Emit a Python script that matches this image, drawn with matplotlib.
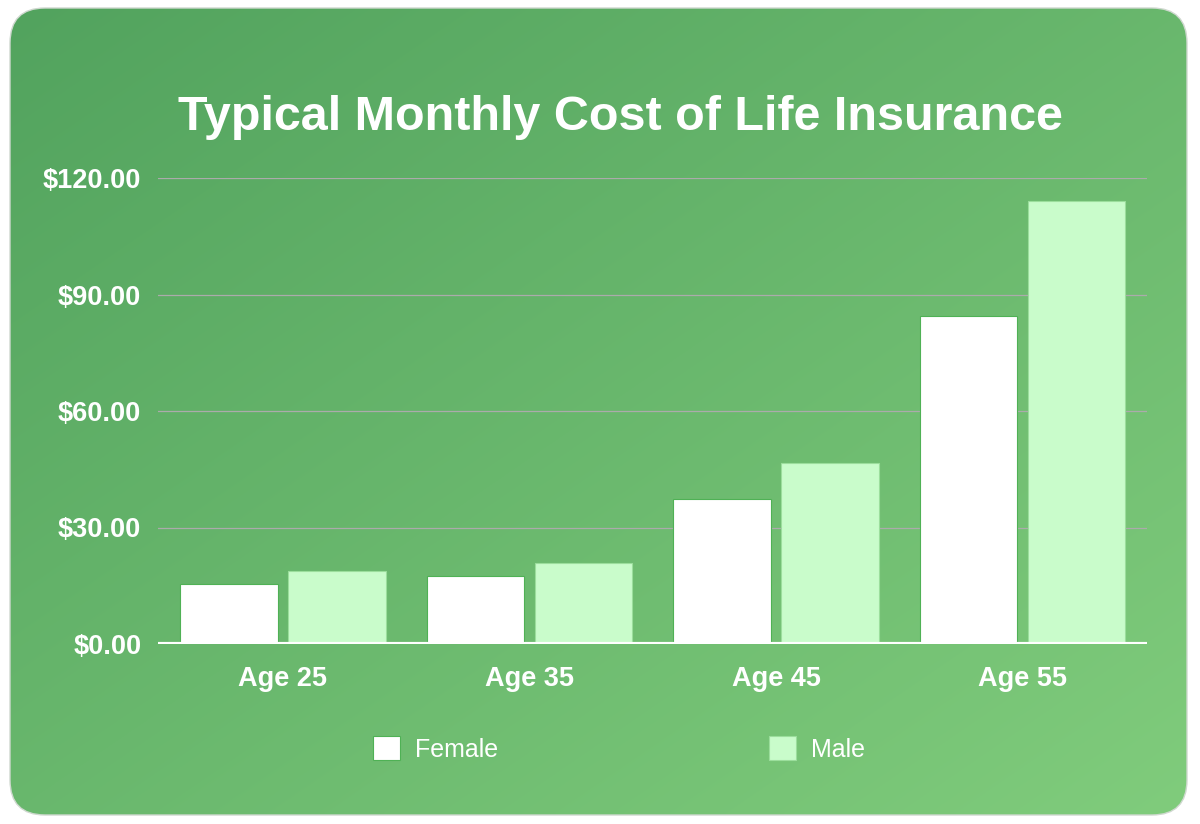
import numpy as np
import matplotlib
matplotlib.use("Agg")
import matplotlib.pyplot as plt
from matplotlib.patches import FancyBboxPatch, Patch

# --- data ---
ages = ["Age 25", "Age 35", "Age 45", "Age 55"]
female = [15.5, 17.6, 37.4, 84.4]
male = [18.8, 20.9, 46.6, 114.2]
yticks = [0, 30, 60, 90, 120]
ytick_labels = ["$0.00", "$30.00", "$60.00", "$90.00", "$120.00"]

TITLE = "Typical Monthly Cost of Life Insurance"
FEMALE_COLOR = "#ffffff"
MALE_COLOR = "#c9fccb"

plt.rcParams["font.family"] = ["Liberation Sans", "DejaVu Sans"]

W, H = 12.0, 8.24
fig = plt.figure(figsize=(W, H), dpi=100)
fig.patch.set_facecolor("white")

# --- card background with diagonal gradient ---
bg = fig.add_axes([0, 0, 1, 1])
bg.set_xlim(0, W)
bg.set_ylim(0, H)
bg.axis("off")

x0, x1, y0, y1 = 0.10, 11.87, 0.09, 8.16
card = FancyBboxPatch((x0, y0), x1 - x0, y1 - y0,
                      boxstyle="round,pad=0,rounding_size=0.35",
                      facecolor="none", edgecolor="#cfd8cf", lw=1.0, zorder=3)
bg.add_patch(card)

gx, gy = np.meshgrid(np.linspace(0, 1, 300), np.linspace(0, 1, 200))
t = (gx + gy) / 2.0  # row 0 is the top: 0 at top-left, 1 at bottom-right
c0 = np.array([0x52, 0xa3, 0x5e]) / 255.0
c1 = np.array([0x80, 0xcc, 0x7c]) / 255.0
grad = c0[None, None, :] * (1 - t[..., None]) + c1[None, None, :] * t[..., None]
img = bg.imshow(grad, extent=[x0, x1, y0, y1], origin="upper",
                aspect="auto", zorder=1, interpolation="bilinear")
img.set_clip_path(card)

# --- main chart ---
ax = fig.add_axes([158 / 1200, 1 - 644 / 824, 989 / 1200, (644 - 178) / 824])
ax.patch.set_alpha(0)

x = np.arange(len(ages))
offset = 0.219
width = 0.397
ax.bar(x - offset, female, width, color=FEMALE_COLOR, edgecolor="#4fb155",
       linewidth=0.8, zorder=3, label="Female")
ax.bar(x + offset, male, width, color=MALE_COLOR, edgecolor="#9bde9c",
       linewidth=0.8, zorder=3, label="Male")

ax.set_xlim(-0.507, 3.505)
ax.set_ylim(0, 120)
ax.set_yticks(yticks)
ax.set_yticklabels(ytick_labels)
ax.set_xticks(x)
ax.set_xticklabels(ages)

for v in yticks[1:]:
    ax.axhline(v, color="#ababab", lw=0.9, zorder=1)
ax.axhline(0, color="white", lw=3.0, zorder=4)

for s in ax.spines.values():
    s.set_visible(False)
ax.tick_params(axis="both", length=0, colors="white", labelsize=19.5)
ax.tick_params(axis="y", pad=12)
ax.tick_params(axis="x", pad=16)
for lab in ax.get_xticklabels() + ax.get_yticklabels():
    lab.set_fontweight("bold")

fig.text(620 / 1200, 1 - 130 / 824, TITLE, ha="center", va="baseline",
         color="white", fontsize=34.9, fontweight="bold")

handles = [Patch(facecolor=FEMALE_COLOR, edgecolor="#4fb155", lw=0.8),
           Patch(facecolor=MALE_COLOR, edgecolor="#9bde9c", lw=0.8)]
leg = fig.legend(handles, ["Female", "Male"], loc="center",
                 bbox_to_anchor=(619 / 1200, 1 - 749 / 824), ncol=2,
                 frameon=False, fontsize=18, handlelength=1.1,
                 handleheight=1.1, handletextpad=0.6, columnspacing=10.8)
for txt in leg.get_texts():
    txt.set_color("white")

fig.savefig("out.png", dpi=100, facecolor="white")
